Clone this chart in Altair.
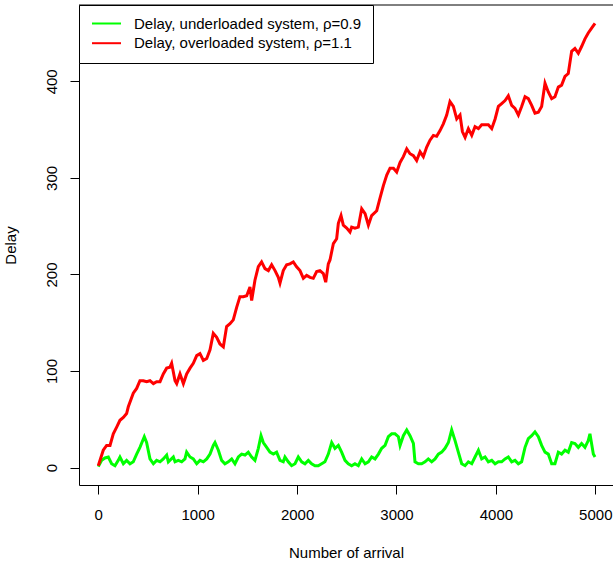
import altair as alt
import pandas as pd

LABEL_UNDER = "Delay, underloaded system, ρ=0.9"
LABEL_OVER = "Delay, overloaded system, ρ=1.1"

green_x = [0, 34, 67, 101, 134, 168, 201, 218, 252, 285, 319, 352, 386, 419, 463, 486, 520, 554, 587, 621,
           654, 688, 705, 755, 772, 805, 839, 872, 889, 923, 956, 990, 1023, 1057, 1091, 1124, 1157, 1174, 1208, 1241,
           1274, 1308, 1342, 1375, 1409, 1442, 1476, 1509, 1543, 1576, 1610, 1637, 1660, 1694, 1727, 1761, 1794, 1828, 1861, 1878,
           1911, 1945, 1979, 2012, 2046, 2079, 2113, 2146, 2180, 2213, 2247, 2280, 2314, 2348, 2381, 2415, 2448, 2482, 2515, 2549,
           2582, 2616, 2650, 2684, 2717, 2750, 2784, 2818, 2851, 2885, 2918, 2952, 2985, 3019, 3036, 3069, 3103, 3136, 3170, 3186,
           3220, 3253, 3287, 3320, 3354, 3388, 3421, 3455, 3488, 3522, 3555, 3589, 3622, 3656, 3690, 3723, 3757, 3790, 3824, 3857,
           3891, 3924, 3958, 3992, 4025, 4058, 4092, 4125, 4159, 4192, 4226, 4259, 4293, 4326, 4360, 4393, 4427, 4460, 4494, 4527,
           4561, 4594, 4628, 4661, 4695, 4728, 4762, 4795, 4829, 4862, 4896, 4929, 4946, 4980, 4997]
green_y = [1, 7.5, 10, 11, 4, 2, 7.5, 11, 4, 7.5, 4, 6, 14, 21, 32, 26, 9, 4, 7.5, 6,
           9, 13, 6, 11, 6, 7.5, 6, 9, 16, 11, 9, 4, 7.5, 6, 9, 14, 23, 26, 18, 7.5,
           4, 6, 9, 4, 11, 14, 13, 16, 11, 7.5, 20, 33, 26, 21, 16, 14, 16, 7.5, 6, 11,
           6, 2, 4, 11, 6, 4, 7.5, 4, 2, 2, 4, 6, 14, 26, 20, 23, 16, 7.5, 4, 2,
           4, 2, 9, 4, 6, 11, 9, 14, 20, 23, 32, 35, 35, 32, 23, 33, 39, 33, 25, 6,
           4, 4, 6, 9, 6, 9, 14, 16, 20, 26, 39, 28, 16, 4, 2, 6, 4, 11, 18, 9,
           11, 6, 7.5, 4, 6, 6, 9, 11, 6, 7.5, 4, 6, 21, 30, 33, 37, 32, 23, 16, 14,
           4, 4, 16, 14, 18, 16, 26, 25, 21, 25, 21, 28, 35, 14, 11]

red_x = [0, 50, 84, 118, 151, 185, 218, 252, 285, 302, 352, 386, 419, 453, 486, 520, 554, 587, 621, 654,
         688, 721, 738, 772, 789, 822, 856, 889, 923, 956, 990, 1023, 1057, 1091, 1124, 1157, 1191, 1224, 1258, 1291,
         1325, 1358, 1392, 1425, 1459, 1493, 1526, 1543, 1576, 1610, 1643, 1677, 1711, 1744, 1778, 1811, 1828, 1861, 1895, 1928,
         1962, 1995, 2029, 2063, 2096, 2130, 2163, 2197, 2230, 2264, 2288, 2314, 2331, 2365, 2398, 2415, 2442, 2465, 2499, 2532,
         2549, 2582, 2616, 2650, 2684, 2717, 2750, 2801, 2834, 2868, 2902, 2935, 2969, 3002, 3036, 3069, 3103, 3136, 3170, 3203,
         3237, 3270, 3304, 3337, 3371, 3404, 3438, 3471, 3505, 3538, 3572, 3606, 3639, 3663, 3690, 3723, 3757, 3790, 3824, 3857,
         3891, 3924, 3958, 3992, 4025, 4058, 4092, 4125, 4159, 4192, 4226, 4259, 4293, 4326, 4360, 4393, 4427, 4460, 4494, 4527,
         4561, 4594, 4628, 4661, 4695, 4728, 4762, 4795, 4829, 4862, 4896, 4929, 4963, 4997]
red_y = [2, 18, 23, 23, 35, 42, 49, 52, 56, 63, 77, 82, 90, 90, 89, 90, 87, 89, 89, 97,
         103, 104, 108, 90, 87, 97, 87, 97, 103, 108, 116, 118, 111, 113, 122, 139, 135, 128, 125, 146,
         149, 153, 166, 177, 177, 178, 187, 173, 194, 208, 213, 206, 204, 210, 204, 197, 191, 204, 210, 211,
         213, 208, 204, 196, 199, 197, 196, 203, 204, 201, 192, 211, 215, 232, 237, 253, 261, 251, 248, 244,
         249, 248, 249, 268, 263, 251, 261, 266, 279, 292, 303, 310, 310, 306, 316, 322, 330, 325, 323, 318,
         327, 322, 332, 339, 344, 343, 349, 356, 365, 379, 374, 361, 365, 348, 342, 351, 344, 353, 351, 355,
         355, 355, 351, 361, 374, 377, 380, 385, 375, 372, 365, 374, 384, 382, 375, 367, 368, 374, 398, 389,
         382, 384, 394, 396, 405, 408, 431, 434, 429, 436, 444, 450, 455, 460]

x_ticks = [0, 1000, 2000, 3000, 4000, 5000]
y_ticks = [0, 100, 200, 300, 400]

FONT = "Liberation Sans"

df_g = pd.DataFrame({"arrival": green_x, "delay": green_y, "series": LABEL_UNDER})
df_r = pd.DataFrame({"arrival": red_x, "delay": red_y, "series": LABEL_OVER})

x_scale = alt.Scale(domain=[-194, 5178], nice=False, zero=False)
y_scale = alt.Scale(domain=[-18, 479], nice=False, zero=False)
color_scale = alt.Scale(domain=[LABEL_UNDER, LABEL_OVER], range=["#00FF00", "#FF0000"])

x_axis = alt.Axis(values=x_ticks, format="d", title="Number of arrival", grid=False, tickSize=9, labelPadding=13,
                  labelFontSize=15, titleFontSize=15, titleFontWeight="normal", titleY=72,
                  titleBaseline="alphabetic", labelFlush=False, labelOverlap=False, labelBound=False,
                  domainColor="black", tickColor="black", labelColor="black", titleColor="black")
y_axis = alt.Axis(values=y_ticks, format="d", title="Delay", grid=False, tickSize=9, labelPadding=14,
                  labelAngle=270, labelAlign="center", labelBaseline="alphabetic",
                  labelFontSize=15, titleFontSize=15, titleFontWeight="normal",
                  titleAngle=270, titleX=-64, titleY=240, titleAlign="center", titleBaseline="alphabetic",
                  labelOverlap=False, labelFlush=False,
                  domainColor="black", tickColor="black", labelColor="black", titleColor="black")

legend = alt.Legend(title=None, orient="none", legendX=0, legendY=0, strokeColor="black", fillColor="white",
                    padding=11, labelFontSize=15, labelFont=FONT, labelColor="black", labelLimit=0,
                    symbolType="M-1.5,0H4.3", symbolSize=100, symbolStrokeWidth=2, symbolOffset=2,
                    labelOffset=27, rowPadding=3.7, cornerRadius=0)

green = alt.Chart(df_g).mark_line(strokeWidth=3).encode(
    x=alt.X("arrival:Q", scale=x_scale, axis=x_axis),
    y=alt.Y("delay:Q", scale=y_scale, axis=y_axis),
    color=alt.Color("series:N", scale=color_scale, legend=legend),
)
red = alt.Chart(df_r).mark_line(strokeWidth=3).encode(
    x=alt.X("arrival:Q", scale=x_scale),
    y=alt.Y("delay:Q", scale=y_scale),
    color=alt.Color("series:N", scale=color_scale, legend=legend),
)
top_border = alt.Chart(pd.DataFrame({"a": [0]})).mark_rule(color="black", strokeWidth=1).encode(
    y=alt.datum(479)
)

chart = alt.layer(green, red, top_border).properties(
    width=534, height=480,
    autosize=alt.AutoSizeParams(type="none"),
    padding={"left": 79, "top": 5, "right": 0, "bottom": 78},
).configure(font=FONT).configure_view(stroke=None)

chart.save("out.html", embed_options={"renderer": "svg", "actions": False})
